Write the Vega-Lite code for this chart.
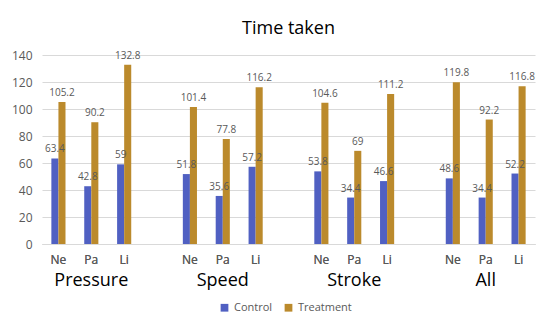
{
  "$schema": "https://vega.github.io/schema/vega-lite/v6.json",
  "autosize": {"type": "none"},
  "width": 493,
  "height": 189,
  "padding": {"left": 42, "top": 55, "right": 15, "bottom": 89},
  "background": "white",
  "config": {
    "view": {"stroke": null},
    "font": "Open Sans"
  },
  "title": {
    "text": "Time taken",
    "fontSize": 18,
    "fontWeight": "normal",
    "color": "#000000",
    "font": "Open Sans",
    "anchor": "middle",
    "frame": "group",
    "offset": 11
  },
  "data": {
    "values": [
      {"slot": "Pressure|Ne", "series": "Control", "value": 63.4},
      {"slot": "Pressure|Ne", "series": "Treatment", "value": 105.2},
      {"slot": "Pressure|Pa", "series": "Control", "value": 42.8},
      {"slot": "Pressure|Pa", "series": "Treatment", "value": 90.2},
      {"slot": "Pressure|Li", "series": "Control", "value": 59},
      {"slot": "Pressure|Li", "series": "Treatment", "value": 132.8},
      {"slot": "Speed|Ne", "series": "Control", "value": 51.8},
      {"slot": "Speed|Ne", "series": "Treatment", "value": 101.4},
      {"slot": "Speed|Pa", "series": "Control", "value": 35.6},
      {"slot": "Speed|Pa", "series": "Treatment", "value": 77.8},
      {"slot": "Speed|Li", "series": "Control", "value": 57.2},
      {"slot": "Speed|Li", "series": "Treatment", "value": 116.2},
      {"slot": "Stroke|Ne", "series": "Control", "value": 53.8},
      {"slot": "Stroke|Ne", "series": "Treatment", "value": 104.6},
      {"slot": "Stroke|Pa", "series": "Control", "value": 34.4},
      {"slot": "Stroke|Pa", "series": "Treatment", "value": 69},
      {"slot": "Stroke|Li", "series": "Control", "value": 46.6},
      {"slot": "Stroke|Li", "series": "Treatment", "value": 111.2},
      {"slot": "All|Ne", "series": "Control", "value": 48.6},
      {"slot": "All|Ne", "series": "Treatment", "value": 119.8},
      {"slot": "All|Pa", "series": "Control", "value": 34.4},
      {"slot": "All|Pa", "series": "Treatment", "value": 92.2},
      {"slot": "All|Li", "series": "Control", "value": 52.2},
      {"slot": "All|Li", "series": "Treatment", "value": 116.8}
    ]
  },
  "encoding": {
    "x": {
      "field": "slot",
      "type": "nominal",
      "scale": {
        "domain": ["Pressure|Ne", "Pressure|Pa", "Pressure|Li", "gap1", "Speed|Ne", "Speed|Pa", "Speed|Li", "gap2", "Stroke|Ne", "Stroke|Pa", "Stroke|Li", "gap3", "All|Ne", "All|Pa", "All|Li"],
        "paddingInner": 0.57,
        "paddingOuter": 0.285
      },
      "axis": {
        "title": null,
        "orient": "bottom",
        "labelExpr": "indexof(datum.value, '|') >= 0 ? split(datum.value, '|')[1] : ''",
        "labelAngle": 0,
        "labelFontSize": 12,
        "labelColor": "#595959",
        "labelPadding": 10,
        "ticks": false,
        "domainColor": "#d9d9d9",
        "grid": false
      }
    },
    "xOffset": {"field": "series", "type": "nominal", "scale": {"domain": ["Control", "Treatment"]}},
    "y": {
      "field": "value",
      "type": "quantitative",
      "scale": {"domain": [0, 140], "nice": false},
      "axis": {
        "title": null,
        "values": [0, 20, 40, 60, 80, 100, 120, 140],
        "labelOverlap": false,
        "labelFontSize": 12,
        "labelColor": "#595959",
        "labelPadding": 10,
        "ticks": false,
        "domain": false,
        "gridColor": "#d9d9d9"
      }
    }
  },
  "layer": [
    {
      "mark": {"type": "bar"},
      "encoding": {
        "color": {
          "field": "series",
          "type": "nominal",
          "scale": {"domain": ["Control", "Treatment"], "range": ["#5060c2", "#bb8a2c"]},
          "legend": {
            "title": null,
            "orient": "none",
            "legendX": 177,
            "legendY": 247,
            "direction": "horizontal",
            "symbolType": "square",
            "symbolSize": 60,
            "symbolStrokeWidth": 0,
            "labelFontSize": 11,
            "labelColor": "#595959",
            "labelOffset": 4,
            "columnPadding": 10
          }
        }
      }
    },
    {
      "mark": {"type": "text", "baseline": "bottom", "dy": -4, "fontSize": 10, "color": "#595959"},
      "encoding": {
        "text": {"field": "value", "type": "quantitative"}
      }
    },
    {
      "mark": {"type": "text", "opacity": 0},
      "encoding": {
        "x": {
          "field": "slot",
          "type": "nominal",
          "axis": {
            "title": null,
            "orient": "bottom",
            "labelExpr": "indexof(datum.value, '|Pa') >= 0 ? split(datum.value, '|')[0] : ''",
            "labelAngle": 0,
            "labelFontSize": 18,
            "labelColor": "#000000",
            "labelPadding": 27,
            "ticks": false,
            "domain": false,
            "grid": false
          }
        },
        "text": {"field": "value", "type": "quantitative"}
      }
    }
  ],
  "resolve": {"axis": {"x": "independent"}}
}
